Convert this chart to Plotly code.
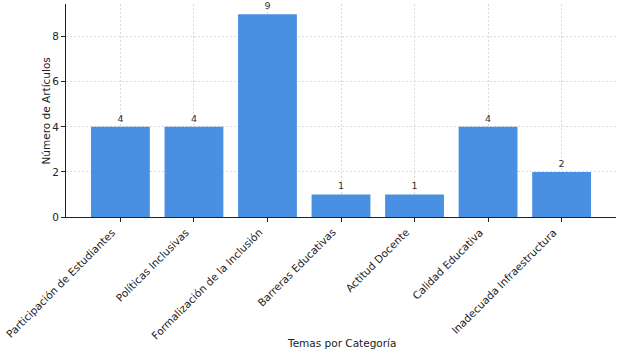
import plotly.graph_objects as go

categorias = ["Participación de Estudiantes", "Políticas Inclusivas", "Formalización de la Inclusión",
              "Barreras Educativas", "Actitud Docente", "Calidad Educativa", "Inadecuada Infraestructura"]
articulos = [4, 4, 9, 1, 1, 4, 2]
y_ticks = [0, 2, 4, 6, 8]
titulo_x = "Temas por Categoría"
titulo_y = "Número de Artículos"

posiciones = list(range(len(categorias)))

fig = go.Figure(go.Bar(
    x=posiciones, y=articulos,
    width=0.8, marker=dict(color="rgba(60,136,224,0.93)", line=dict(width=0)),
    text=[str(v) for v in articulos], textposition="outside",
    textfont=dict(family="DejaVu Sans", size=9.5, color="#333333"),
    cliponaxis=False,
))

axis_font = dict(family="DejaVu Sans", size=10.5, color="#222222")
grid_style = dict(showgrid=True, gridcolor="#d9d9d9", griddash="2px,2px", gridwidth=0.8)

# rotated category labels, right-aligned at each tick (bounding-box anchored)
for xi, cat in zip(posiciones, categorias):
    fig.add_annotation(x=xi, y=0, xref="x", yref="y", text=cat, showarrow=False,
                       textangle=-45, xanchor="right", yanchor="top", yshift=-6,
                       font=axis_font)

fig.add_annotation(x=0.5, y=-0.5915, xref="paper", yref="paper", text=titulo_x,
                   showarrow=False, xanchor="center", yanchor="middle", font=axis_font)
fig.add_annotation(x=-0.0364, y=0.5, xref="paper", yref="paper", text=titulo_y,
                   showarrow=False, xanchor="center", yanchor="middle", textangle=-90,
                   font=axis_font)

fig.update_layout(
    width=643, height=356,
    margin=dict(l=66, r=27, t=4, b=139, autoexpand=False),
    plot_bgcolor="white", paper_bgcolor="white",
    showlegend=False,
    font=dict(family="DejaVu Sans", color="#222222"),
    xaxis=dict(
        range=[-0.74, 6.74],
        tickmode="array", tickvals=posiciones, showticklabels=False,
        automargin=False,
        showline=True, linecolor="#222222", linewidth=1,
        ticks="outside", ticklen=4, tickcolor="#222222",
        zeroline=False, **grid_style,
    ),
    yaxis=dict(
        range=[0, 9.45],
        tickmode="array", tickvals=y_ticks,
        tickfont=axis_font, automargin=False,
        showline=True, linecolor="#222222", linewidth=1,
        ticks="outside", ticklen=4, tickcolor="#222222",
        zeroline=False, **grid_style,
    ),
)

fig.write_html("out.html", config={"displayModeBar": False},
               post_script="document.body.style.margin='0';document.body.style.padding='0';")
